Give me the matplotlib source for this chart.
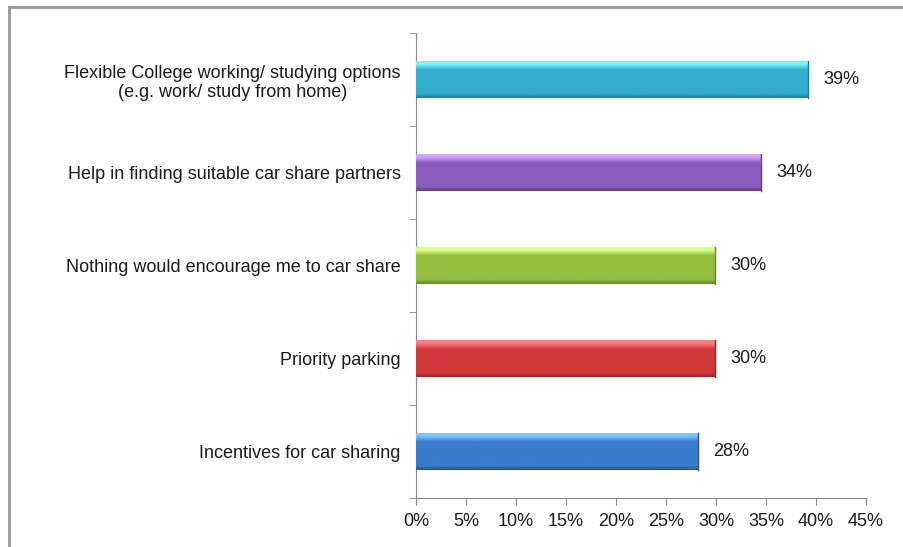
import matplotlib
matplotlib.use("Agg")
import matplotlib.pyplot as plt
import numpy as np
from matplotlib.colors import LinearSegmentedColormap, to_rgb

# categories from bottom to top
categories = ["Incentives for car sharing",
              "Priority parking",
              "Nothing would encourage me to car share",
              "Help in finding suitable car share partners",
              "Flexible College working/ studying options\n(e.g. work/ study from home)"]
values = [28.2, 29.9, 29.9, 34.5, 39.2]
labels = ["28%", "30%", "30%", "34%", "39%"]
colors = ["#3A7DCB", "#D2393A", "#93BE3F", "#8B5DBE", "#33AED0"]

plt.rcParams['font.family'] = ['Liberation Sans', 'DejaVu Sans']

fig = plt.figure(figsize=(9.04, 5.47), dpi=100)
ax = fig.add_axes([0.460, 0.0896, 0.498, 0.850])

y = np.arange(len(categories))
h = 0.40
bars = ax.barh(y, values, height=h, color=colors, edgecolor="none", zorder=2)

# simple bevel look: vertical gradient inside each bar
for b, c in zip(bars, colors):
    r, g, bl = to_rgb(c)
    light = tuple(min(1, v + 0.28) for v in (r, g, bl))
    dark = tuple(v * 0.7 for v in (r, g, bl))
    cmap = LinearSegmentedColormap.from_list("g", [(0, dark), (0.12, (r, g, bl)), (0.75, (r, g, bl)), (0.9, light), (1, light)])
    grad = np.linspace(0, 1, 100).reshape(-1, 1)
    x0, y0 = b.get_x(), b.get_y()
    im = ax.imshow(grad, extent=[x0, x0 + b.get_width(), y0, y0 + b.get_height()],
                   origin="lower", cmap=cmap, aspect="auto", zorder=3)
    im.set_clip_path(b)
    ax.plot([x0 + b.get_width()] * 2, [y0, y0 + b.get_height()], color=dark, lw=1, zorder=4)

for v, yy, t in zip(values, y, labels):
    ax.text(v + 1.5, yy, t, va="center", ha="left", fontsize=13, color="#1a1a1a")

ax.set_xlim(0, 45)
ax.set_ylim(-0.5, 4.5)
ax.set_xticks(np.arange(0, 46, 5))
ax.set_xticklabels([f"{t}%" for t in range(0, 46, 5)], fontsize=13, color="#1a1a1a")
ax.set_yticks(y)
ax.set_yticklabels(categories, fontsize=13, color="#1a1a1a", multialignment="center")
ax.tick_params(axis="y", length=0, pad=11)
ax.set_yticks(np.arange(-0.5, 5, 1), minor=True)
ax.tick_params(axis="y", which="minor", length=5, color="#888888", direction="out")
ax.tick_params(axis="x", length=5, color="#888888", pad=6)

for s in ["top", "right"]:
    ax.spines[s].set_visible(False)
for s in ["left", "bottom"]:
    ax.spines[s].set_color("#888888")

# outer frame of the chart area (left and top edges)
fig.add_artist(plt.Line2D([0.010, 0.010], [0, 0.988], color="#999999", lw=2, transform=fig.transFigure))
fig.add_artist(plt.Line2D([0.010, 1.0], [0.988, 0.988], color="#999999", lw=2, transform=fig.transFigure))

fig.savefig("out.png", dpi=100)
